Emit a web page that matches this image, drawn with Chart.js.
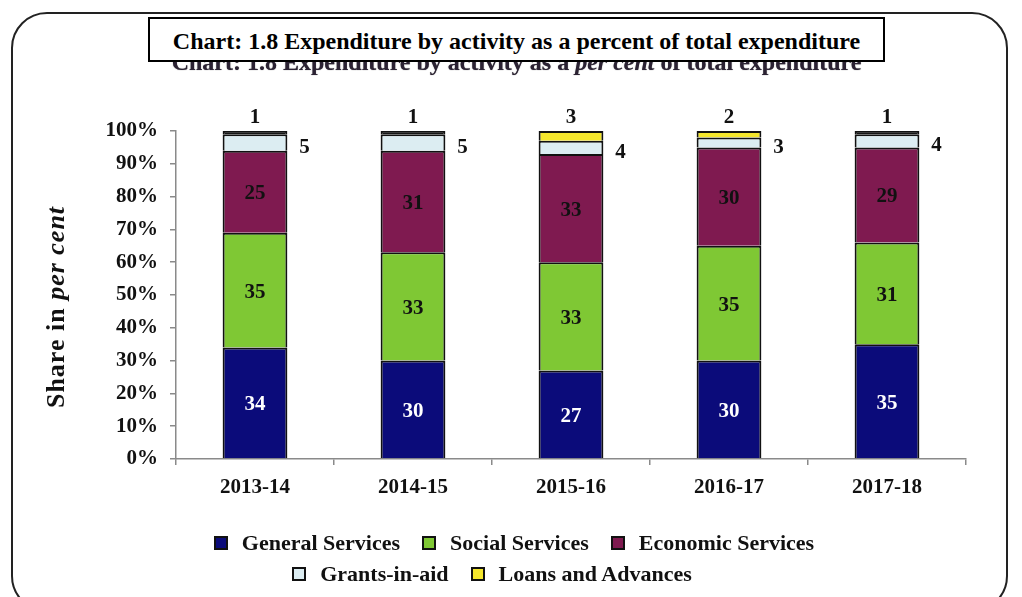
<!DOCTYPE html>
<html>
<head>
<meta charset="utf-8">
<script src="https://cdn.jsdelivr.net/npm/chart.js@4"></script>
<style>
  html, body { margin: 0; padding: 0; background: #fff; }
  body { width: 1022px; height: 597px; position: relative; overflow: hidden; font-family: "Liberation Serif", "Times New Roman", serif; }
  .frame { position: absolute; left: 11px; top: 12px; width: 997px; height: 600px; border: 2px solid #222; border-radius: 36px; box-sizing: border-box; }
  .ghost { position: absolute; left: 148px; top: 49px; width: 737px; text-align: center; font-weight: bold; font-size: 24px; color: #2b2233; text-shadow: 0 0 1px #666; }
  .title { position: absolute; left: 148px; top: 17px; width: 737px; height: 45px; border: 2px solid #000; background: #fff; box-sizing: border-box; text-align: center; line-height: 45px; font-weight: bold; font-size: 24px; color: #000; }
  #wrap { position: absolute; left: 0; top: 0; width: 1022px; height: 597px; }
  .legend { position: absolute; width: 1022px; display: flex; justify-content: center; font-weight: bold; font-size: 22px; color: #111; }
  .legend .item { display: flex; align-items: center; margin: 0 11px; }
  .legend .box { width: 10px; height: 10px; border: 2px solid #111; margin-right: 14px; }
</style>
</head>
<body>
<div class="frame"></div>
<div id="wrap"><canvas id="myChart" width="1022" height="597"></canvas></div>
<div class="ghost">Chart: 1.8 Expenditure by activity as a <i>per cent</i> of total expenditure</div>
<div class="title">Chart: 1.8 Expenditure by activity as a percent of total expenditure</div>
<div class="legend" id="legend1" style="left:3px;top:530px"></div>
<div class="legend" id="legend2" style="left:-19px;top:561px"></div>
<script>
(function() {

  "use strict";

  var years = ['2013-14', '2014-15', '2015-16', '2016-17', '2017-18'];

  var general  = [34, 30, 27, 30, 35];
  var social   = [35, 33, 33, 35, 31];
  var economic = [25, 31, 33, 30, 29];
  var grants   = [5, 5, 4, 3, 4];
  var loans    = [1, 1, 3, 2, 1];

  var yTicks = [0, 10, 20, 30, 40, 50, 60, 70, 80, 90, 100];

  var names  = ['General Services', 'Social Services', 'Economic Services', 'Grants-in-aid', 'Loans and Advances'];
  var colors = ['#0b0b7a', '#7fc834', '#7f1a50', '#dcedf2', '#f4e62c'];

  var font = 'Liberation Serif';

  // value labels drawn on top of the bars
  var barLabels = {
    id: 'barLabels',
    afterDatasetsDraw: function(chart) {
      var ctx = chart.ctx;
      ctx.save();
      ctx.font = 'bold 21px "' + font + '"';
      ctx.textAlign = 'center';
      ctx.textBaseline = 'middle';
      chart.data.datasets.forEach(function(ds, i) {
        var meta = chart.getDatasetMeta(i);
        meta.data.forEach(function(bar, j) {
          var p = bar.getProps(['x', 'y', 'base', 'width'], true);
          var v = ds.data[j];
          var mid = (p.y + p.base) / 2;
          if (i === 0) {
            ctx.fillStyle = '#fff';
            ctx.fillText(v, p.x, mid + 2);
          } else if (i < 3) {
            ctx.fillStyle = '#111';
            ctx.fillText(v, p.x, mid + 2);
          } else if (i === 3) {
            ctx.fillStyle = '#111';
            ctx.fillText(v, p.x + p.width / 2 + 17, mid + 5);
          } else {
            ctx.fillStyle = '#111';
            ctx.fillText(v, p.x, p.y - 13);
          }
        });
      });
      ctx.restore();
    }
  };

  // y axis title with italic part
  var yTitle = {
    id: 'yTitle',
    afterDraw: function(chart) {
      var ctx = chart.ctx;
      var a = 'Share in ', b = 'per cent';
      ctx.save();
      ctx.translate(57, 307);
      ctx.rotate(-Math.PI / 2);
      ctx.textBaseline = 'middle';
      ctx.fillStyle = '#111';
      ctx.letterSpacing = '1px';
      ctx.font = 'bold 26px "' + font + '"';
      var wa = ctx.measureText(a).width;
      ctx.font = 'italic bold 26px "' + font + '"';
      var wb = ctx.measureText(b).width;
      var x0 = -(wa + wb) / 2;
      ctx.font = 'bold 26px "' + font + '"';
      ctx.fillText(a, x0, 0);
      ctx.font = 'italic bold 26px "' + font + '"';
      ctx.fillText(b, x0 + wa, 0);
      ctx.restore();
    }
  };

  var series = [general, social, economic, grants, loans];
  var datasets = series.map(function(d, i) {
    return {
      label: names[i],
      data: d,
      // a 1 % loans slice is so thin that only its black outline shows
      backgroundColor: i === 4 ? function(c) { return c.raw < 1.5 ? '#161616' : colors[4]; } : colors[i],
      borderColor: '#111',
      borderWidth: 2,
      categoryPercentage: 1,
      barPercentage: 0.41
    };
  });

  var ctx = document.getElementById('myChart').getContext('2d');

  var myChart = new Chart(ctx, {
    type: 'bar',
    data: { labels: years, datasets: datasets },
    options: {
      responsive: false,
      animation: false,
      layout: { padding: { left: 30, right: 56, top: 131, bottom: 93 } },
      plugins: {
        legend: { display: false },
        tooltip: { enabled: false }
      },
      scales: {
        x: {
          stacked: true,
          grid: { drawOnChartArea: false, drawTicks: true, tickLength: 6, color: '#8a8a8a', lineWidth: 1.5 },
          border: { display: true, color: '#8a8a8a', width: 1.5 },
          ticks: { color: '#111', padding: 10, font: { family: font, size: 21, weight: 'bold' } },
          afterFit: function(s) { s.height = 45; }
        },
        y: {
          stacked: true,
          min: 0,
          max: 100,
          afterBuildTicks: function(s) { s.ticks = yTicks.map(function(v) { return { value: v }; }); },
          grid: { drawOnChartArea: false, drawTicks: true, tickLength: 6, color: '#8a8a8a', lineWidth: 1.5 },
          border: { display: true, color: '#8a8a8a', width: 1.5 },
          ticks: {
            color: '#111',
            padding: 12,
            font: { family: font, size: 21, weight: 'bold' },
            callback: function(v) { return v + '%'; }
          },
          afterFit: function(s) { s.width = 146; }
        }
      }
    },
    plugins: [barLabels, yTitle]
  });

  // legend in two rows as in the original
  function addLegend(el, idx) {
    idx.forEach(function(i) {
      var item = document.createElement('span');
      item.className = 'item';
      var box = document.createElement('span');
      box.className = 'box';
      box.style.background = colors[i];
      item.appendChild(box);
      item.appendChild(document.createTextNode(names[i]));
      el.appendChild(item);
    });
  }
  addLegend(document.getElementById('legend1'), [0, 1, 2]);
  addLegend(document.getElementById('legend2'), [3, 4]);

})();
</script>
</body>
</html>
